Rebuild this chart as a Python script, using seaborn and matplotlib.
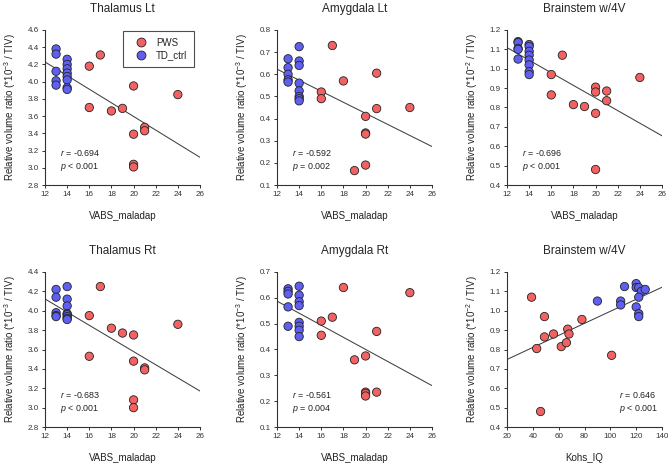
import numpy as np
import pandas as pd
import seaborn as sns
import matplotlib.pyplot as plt
from matplotlib.lines import Line2D

sns.set_style("ticks")
plt.rcParams['font.family'] = ['Liberation Sans', 'DejaVu Sans']
plt.rcParams['mathtext.fontset'] = 'custom'
plt.rcParams['mathtext.rm'] = 'Liberation Sans'
plt.rcParams['mathtext.it'] = 'Liberation Sans:italic'
plt.rcParams['mathtext.default'] = 'regular'

# ---------------- data ----------------
pws_vabs = [16, 16, 17, 18, 19, 20, 20, 20, 20, 21, 21, 24]
td_vabs = [13, 13, 13, 13, 13, 14, 14, 14, 14, 14, 14, 14, 14]

thal_lt_pws = [4.18, 3.70, 4.31, 3.66, 3.69, 3.95, 3.39, 3.04, 3.01, 3.47, 3.43, 3.85]
thal_lt_td = [4.38, 4.32, 4.12, 4.01, 3.96, 4.26, 4.20, 4.15, 4.10, 4.06, 4.02, 3.93, 3.91]

amy_lt_pws = [0.52, 0.49, 0.73, 0.57, 0.165, 0.41, 0.335, 0.33, 0.19, 0.605, 0.445, 0.45]
amy_lt_td = [0.67, 0.63, 0.60, 0.575, 0.565, 0.725, 0.66, 0.64, 0.56, 0.525, 0.50, 0.49, 0.48]

bs_pws = [0.97, 0.865, 1.07, 0.815, 0.805, 0.905, 0.88, 0.77, 0.48, 0.885, 0.835, 0.955]
bs_td = [1.14, 1.135, 1.105, 1.10, 1.05, 1.125, 1.115, 1.09, 1.07, 1.045, 1.02, 0.985, 0.97]

thal_rt_pws = [3.95, 3.53, 4.25, 3.82, 3.77, 3.75, 3.48, 3.08, 3.00, 3.41, 3.39, 3.86]
thal_rt_td = [4.22, 4.14, 3.98, 3.95, 3.94, 4.25, 4.12, 4.05, 3.97, 3.96, 3.94, 3.92, 3.91]

amy_rt_pws = [0.51, 0.455, 0.525, 0.64, 0.36, 0.375, 0.235, 0.23, 0.22, 0.47, 0.235, 0.62]
amy_rt_td = [0.635, 0.625, 0.615, 0.565, 0.49, 0.645, 0.61, 0.585, 0.57, 0.505, 0.49, 0.475, 0.45]

pws_kohs = [39, 49, 43, 49, 56, 62, 66, 67, 68, 78, 101, 46]
bs_kohs_pws = [1.07, 0.97, 0.805, 0.865, 0.88, 0.815, 0.835, 0.905, 0.88, 0.955, 0.77, 0.48]
td_kohs = [90, 108, 108, 111, 120, 120, 122, 124, 127, 122, 120, 122, 122]
bs_kohs_td = [1.05, 1.05, 1.03, 1.125, 1.14, 1.12, 1.12, 1.10, 1.11, 1.07, 1.02, 0.985, 0.97]

titles = ["Thalamus Lt", "Amygdala Lt", "Brainstem w/4V",
          "Thalamus Rt", "Amygdala Rt", "Brainstem w/4V"]
xlabels = ["VABS_maladap"] * 5 + ["Kohs_IQ"]
exps = ["-3", "-3", "-2", "-3", "-3", "-2"]
r_texts = ["-0.694", "-0.592", "-0.696", "-0.683", "-0.561", "0.646"]
p_texts = ["< 0.001", "= 0.002", "< 0.001", "< 0.001", "= 0.004", "< 0.001"]
groups = ["PWS", "TD_ctrl"]

panels = [
    (pws_vabs, thal_lt_pws, td_vabs, thal_lt_td),
    (pws_vabs, amy_lt_pws, td_vabs, amy_lt_td),
    (pws_vabs, bs_pws, td_vabs, bs_td),
    (pws_vabs, thal_rt_pws, td_vabs, thal_rt_td),
    (pws_vabs, amy_rt_pws, td_vabs, amy_rt_td),
    (pws_kohs, bs_kohs_pws, td_kohs, bs_kohs_td),
]
xlims = [(12, 26)] * 5 + [(20, 140)]
xticks = [np.arange(12, 27, 2)] * 5 + [np.arange(20, 141, 20)]
ylims = [(2.8, 4.6), (0.1, 0.8), (0.4, 1.2), (2.8, 4.4), (0.1, 0.7), (0.4, 1.2)]

# ---------------- style ----------------
RED = "#F26262"
BLUE = "#5F5FF2"
palette = {"PWS": RED, "TD_ctrl": BLUE}

W, H = 668, 463
fig = plt.figure(figsize=(W / 100, H / 100), dpi=100)
lefts = [45, 277, 507]
tops = [30, 272]
aw, ah = 155, 155

for i, (xp, yp, xt, yt) in enumerate(panels):
    row, col = divmod(i, 3)
    ax = fig.add_axes([lefts[col] / W, 1 - (tops[row] + ah) / H, aw / W, ah / H])
    df = pd.DataFrame({
        "x": list(xp) + list(xt),
        "y": list(yp) + list(yt),
        "group": ["PWS"] * len(xp) + ["TD_ctrl"] * len(xt),
    })
    ax.set_xlim(*xlims[i])
    ax.set_ylim(*ylims[i])
    sns.regplot(data=df, x="x", y="y", scatter=False, ci=None, truncate=False,
                ax=ax, line_kws=dict(color="#404040", lw=0.75, zorder=1))
    sns.scatterplot(data=df, x="x", y="y", hue="group", palette=palette,
                    s=36, edgecolor="#222222", linewidth=0.6, ax=ax,
                    legend=False, zorder=3, clip_on=False)
    ax.set_xlim(*xlims[i])
    ax.set_ylim(*ylims[i])
    ax.set_xticks(xticks[i])
    yt_vals = np.round(np.arange(ylims[i][0], ylims[i][1] + 1e-9, 0.1 if ylims[i][1] < 2 else 0.2), 2)
    ax.set_yticks(yt_vals)
    ax.set_yticklabels([f"{v:.1f}" for v in yt_vals])
    ax.set_xticklabels([str(v) for v in xticks[i]])
    for s in ["top", "right"]:
        ax.spines[s].set_visible(False)
    for s in ["left", "bottom"]:
        ax.spines[s].set_linewidth(0.8)
        ax.spines[s].set_color("#333333")
    ax.tick_params(axis="both", labelsize=5.8, length=2.5, width=0.7,
                   colors="#333333", pad=2)
    ax.set_title(titles[i], fontsize=8.5, pad=13)
    ax.set_xlabel(xlabels[i], fontsize=7, labelpad=9, color="#222222")
    ax.set_ylabel("Relative volume ratio (*10$^{" + exps[i] + "}$ / TIV)",
                  fontsize=7, labelpad=7, color="#222222")
    tx = 0.72 if i == 5 else 0.095
    ax.text(tx, 0.205, "$\\it{r}$ = " + r_texts[i], transform=ax.transAxes,
            fontsize=6.4, va="center", color="#222222")
    ax.text(tx, 0.115, "$\\it{p}$ " + p_texts[i], transform=ax.transAxes,
            fontsize=6.4, va="center", color="#222222")
    if i == 0:
        handles = [Line2D([], [], ls="", marker="o", markersize=6.4,
                          markerfacecolor=palette[g], markeredgecolor="#222222",
                          markeredgewidth=0.6) for g in groups]
        leg = ax.legend(handles, groups, loc="upper right",
                        bbox_to_anchor=(1 - 6 / aw, 1 - 1 / ah),
                        borderaxespad=0, fancybox=False, frameon=True,
                        fontsize=7, handletextpad=0.37, borderpad=0.68,
                        labelspacing=0.25, handlelength=2.35)
        leg.get_frame().set_edgecolor("#222222")
        leg.get_frame().set_linewidth(0.8)

fig.savefig("out.png", dpi=100)
